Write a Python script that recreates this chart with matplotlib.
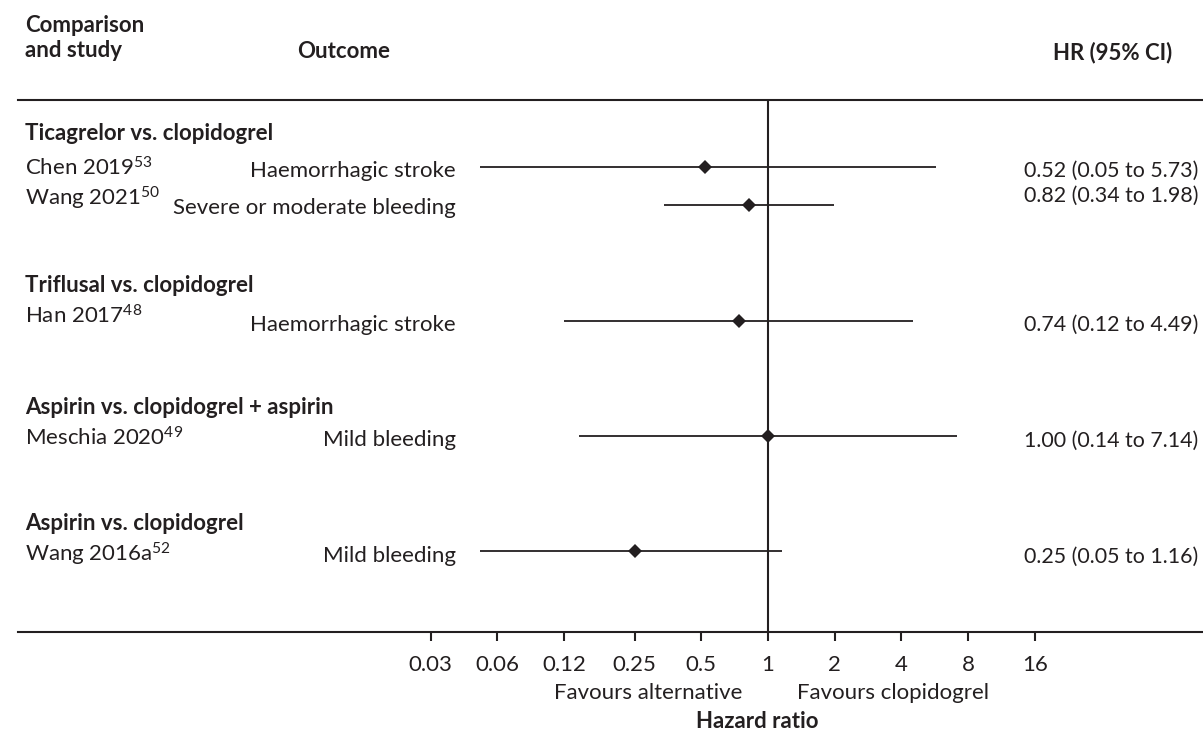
import matplotlib
matplotlib.use("Agg")
import matplotlib.pyplot as plt
from matplotlib.ticker import FixedLocator, FixedFormatter, NullLocator

plt.rcParams['font.family'] = ['Lato', 'DejaVu Sans']
plt.rcParams['mathtext.fontset'] = 'custom'
plt.rcParams['mathtext.rm'] = 'Lato'
plt.rcParams['mathtext.it'] = 'Lato:italic'
plt.rcParams['mathtext.bf'] = 'Lato:bold'

# ---------------- data ----------------
comparisons = ["Ticagrelor vs. clopidogrel", "Triflusal vs. clopidogrel",
               "Aspirin vs. clopidogrel + aspirin", "Aspirin vs. clopidogrel"]
studies = ["Chen 2019", "Wang 2021", "Han 2017", "Meschia 2020", "Wang 2016a"]
refs = ["53", "50", "48", "49", "52"]
outcomes = ["Haemorrhagic stroke", "Severe or moderate bleeding",
            "Haemorrhagic stroke", "Mild bleeding", "Mild bleeding"]
hr = [0.52, 0.82, 0.74, 1.00, 0.25]
ci_low = [0.05, 0.34, 0.12, 0.14, 0.05]
ci_high = [5.73, 1.98, 4.49, 7.14, 1.16]
tick_values = [0.03, 0.06, 0.12, 0.25, 0.5, 1, 2, 4, 8, 16]
tick_labels = ["0.03", "0.06", "0.12", "0.25", "0.5", "1", "2", "4", "8", "16"]

# ---------------- layout (pixels) ----------------
W, H = 1203, 733
C = '#231f20'
FS = 16
x_left_px, x_right_px = 18, 1203
y_top_px, y_bot_px = 100, 632
x_one_px, px_per_doubling = 768, 66.7

row_y = [167, 205, 321, 436, 551]            # marker rows
study_base = [175, 205, 323, 445, 562]
outcome_base = [177, 214, 331, 446, 562]
hr_base = [177, 202, 331, 447, 563]
header_base = [140, 292, 414, 530]

fig = plt.figure(figsize=(W / 100, H / 100), dpi=100)
fig.patch.set_facecolor('white')

ax = fig.add_axes([x_left_px / W, (H - y_bot_px) / H,
                   (x_right_px - x_left_px) / W, (y_bot_px - y_top_px) / H])
ax.set_xscale('log', base=2)
ax.set_xlim(2 ** (-(x_one_px - x_left_px) / px_per_doubling),
            2 ** ((x_right_px - x_one_px) / px_per_doubling))
ax.set_ylim(y_bot_px, y_top_px)
ax.patch.set_alpha(0)

for s in ['left', 'right']:
    ax.spines[s].set_visible(False)
for s in ['top', 'bottom']:
    ax.spines[s].set_linewidth(1.5)
    ax.spines[s].set_color(C)
ax.yaxis.set_major_locator(NullLocator())
ax.yaxis.set_minor_locator(NullLocator())
ax.xaxis.set_major_locator(FixedLocator(tick_values))
ax.xaxis.set_major_formatter(FixedFormatter(tick_labels))
ax.xaxis.set_minor_locator(NullLocator())
ax.tick_params(axis='x', length=6.5, width=1.5, color=C, labelcolor=C,
               labelsize=FS, pad=10, top=False)

ax.axvline(1, color=C, lw=1.5, zorder=1)

for i in range(len(hr)):
    ax.plot([ci_low[i], ci_high[i]], [row_y[i], row_y[i]], color=C, lw=1.3,
            solid_capstyle='butt', zorder=2)
    ax.plot([hr[i]], [row_y[i]], marker='D', markersize=7.5, color=C,
            markeredgewidth=0, zorder=3)


def ftext(xpx, ybase, s, **kw):
    kw.setdefault('fontsize', FS)
    kw.setdefault('color', C)
    return fig.text(xpx / W, 1 - ybase / H, s, va='baseline', **kw)


# headers
ftext(25, 32, "Comparison", fontweight='bold')
ftext(25, 57, "and study", fontweight='bold')
ftext(297, 58, "Outcome", fontweight='bold')
ftext(1172, 59, "HR (95% CI)", fontweight='bold', ha='right')

for j, comp in enumerate(comparisons):
    ftext(25, header_base[j], comp, fontweight='bold')

for i in range(len(studies)):
    ftext(25, study_base[i], studies[i] + "$^{\\mathrm{" + refs[i] + "}}$")
    ftext(456, outcome_base[i], outcomes[i], ha='right')
    ftext(1024, hr_base[i],
          f"{hr[i]:.2f} ({ci_low[i]:.2f} to {ci_high[i]:.2f})", fontsize=15.4)

ftext(742, 699, "Favours alternative", ha='right')
ftext(797, 699, "Favours clopidogrel", ha='left')
ftext(757, 728, "Hazard ratio", fontweight='bold', ha='center')

fig.savefig("out.png", dpi=100)
